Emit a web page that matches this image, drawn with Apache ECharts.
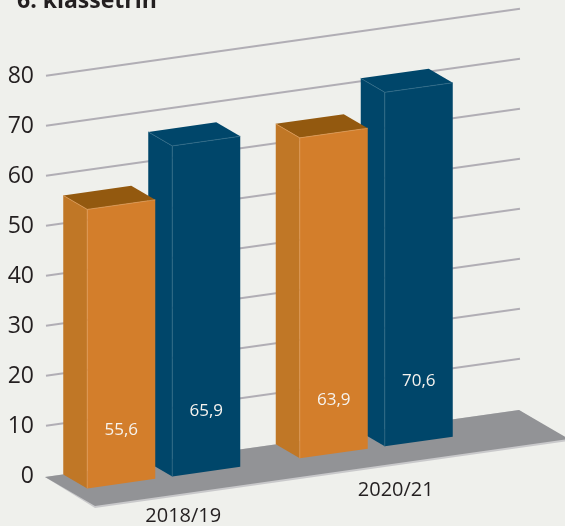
<!DOCTYPE html>
<html><head><meta charset="utf-8">
<style>html,body{margin:0;padding:0;background:#eff0ec}#c{width:565px;height:526px}</style>
<script src="https://cdn.jsdelivr.net/npm/echarts@6/dist/echarts.min.js"></script>
</head><body><div id="c"></div>
<script>
const titleText = '6. klassetrin';
const categories = ['2018/19', '2020/21'];
const yTicks = [10, 20, 30, 40, 50, 60, 70, 80];
const orangeValues = [55.6, 63.9];
const blueValues = [65.9, 70.6];

const FONT = '"Open Sans", sans-serif';
const SLOPE = 0.1414, REF_X = 45;
const DEPTH = [24, 14], BAR_W = 68;
const ink = '#231f20';

function sk(api, x, v) { return [x, api.coord([0, v])[1] - SLOPE * (x - REF_X)]; }
function add(p, d) { return [p[0] + d[0], p[1] + d[1]]; }

function gridItem(params, api) {
  const v = api.value(0);
  const a = sk(api, 46, v), b = sk(api, 520, v);
  return { type: 'line', shape: { x1: a[0], y1: a[1], x2: b[0], y2: b[1] },
    style: { stroke: '#b1aeb5', lineWidth: 2 } };
}
function floorItem(params, api) {
  const pts = dy => {
    const a = sk(api, 45, 0), b = sk(api, 519, 0);
    return [add(a, [0, 1]), add(b, [0, 1]), add(b, [50, 30 + dy]), add(a, [50, 30 + dy])];
  };
  return { type: 'group', children: [
    { type: 'polygon', shape: { points: pts(2) }, style: { fill: '#c9c9cb' } },
    { type: 'polygon', shape: { points: pts(0) }, style: { fill: '#929396' } }
  ] };
}
function barRender(offset, col, labelDy) {
  return function (params, api) {
    const cat = api.value(0), v = api.value(1);
    const cx = api.coord([cat, 0])[0];
    const x = cx + offset;
    const bl = add(sk(api, x, 0), [0, 1]);
    const tl = add(sk(api, x, v), [0, 0]);
    const br = add(sk(api, x + BAR_W, 0), [0, 1]);
    const tr = add(sk(api, x + BAR_W, v), [0, 0]);
    const fbl = add(bl, DEPTH), ftl = add(tl, DEPTH), fbr = add(br, DEPTH), ftr = add(tr, DEPTH);
    const line = (a, b) => ({ type: 'line', shape: { x1: a[0], y1: a[1], x2: b[0], y2: b[1] },
      style: { stroke: col.edge, lineWidth: 0.8 } });
    const mid = [(fbl[0] + fbr[0]) / 2, (fbl[1] + fbr[1]) / 2 - labelDy];
    return { type: 'group', children: [
      { type: 'polygon', shape: { points: [tl, ftl, fbl, bl] }, style: { fill: col.side } },
      { type: 'polygon', shape: { points: [ftl, ftr, fbr, fbl] }, style: { fill: col.front } },
      { type: 'polygon', shape: { points: [tl, tr, ftr, ftl] }, style: { fill: col.top } },
      line(ftl, fbl), line(ftl, ftr), line(tl, ftl),
      { type: 'text', style: { text: String(v).replace('.', ','), x: mid[0], y: mid[1],
        fill: '#f6f3ee', font: '17px ' + FONT, align: 'center', verticalAlign: 'middle' } }
    ] };
  };
}
function catLabelItem(params, api) {
  const cat = api.value(0);
  const x = api.coord([cat, 0])[0] + 43;
  const p = sk(api, x, 0);
  return { type: 'text', style: { text: categories[cat], x: x, y: p[1] + 60 + 0.017 * (x - 182),
    fill: ink, font: '20px ' + FONT, align: 'center', verticalAlign: 'middle' } };
}

const blueCol = { front: '#00466a', side: '#00466a', top: '#00466a', edge: '#2f6a87' };
const orangeCol = { front: '#d37e2b', side: '#c07726', top: '#93590f', edge: '#e09a55' };

const chart = echarts.init(document.getElementById('c'));
chart.setOption({
  animation: false,
  backgroundColor: '#eff0ec',
  title: { text: titleText, left: 12, top: -15,
    textStyle: { fontFamily: FONT, fontSize: 23, fontWeight: 'bold', color: ink } },
  grid: { left: 34, width: 425, top: 76, height: 400, containLabel: false },
  xAxis: { type: 'category', data: categories, show: true,
    axisLine: { show: false }, axisTick: { show: false }, axisLabel: { show: false }, splitLine: { show: false } },
  yAxis: { type: 'value', min: 0, max: 80, interval: 10,
    axisLine: { show: false }, axisTick: { show: false }, splitLine: { show: false },
    axisLabel: { margin: 0, fontFamily: FONT, fontSize: 23, color: ink } },
  series: [
    { type: 'custom', name: 'grid', z: 1, silent: true, renderItem: gridItem, encode: { y: 0 },
      data: yTicks.map(t => [t]), clip: false, coordinateSystem: 'cartesian2d' },
    { type: 'custom', name: 'floor', z: 2, silent: true, renderItem: floorItem, data: [[0]], clip: false },
    { type: 'custom', name: 'Blå', z: 3, renderItem: barRender(8, blueCol, 60), encode: { x: 0, y: 1 },
      data: blueValues.map((v, i) => [i, v]), clip: false },
    { type: 'custom', name: 'Orange', z: 4, renderItem: barRender(-77, orangeCol, 53), encode: { x: 0, y: 1 },
      data: orangeValues.map((v, i) => [i, v]), clip: false },
    { type: 'custom', name: 'cats', z: 5, silent: true, renderItem: catLabelItem, encode: { x: 0 },
      data: categories.map((c, i) => [i]), clip: false }
  ]
});
</script></body></html>
